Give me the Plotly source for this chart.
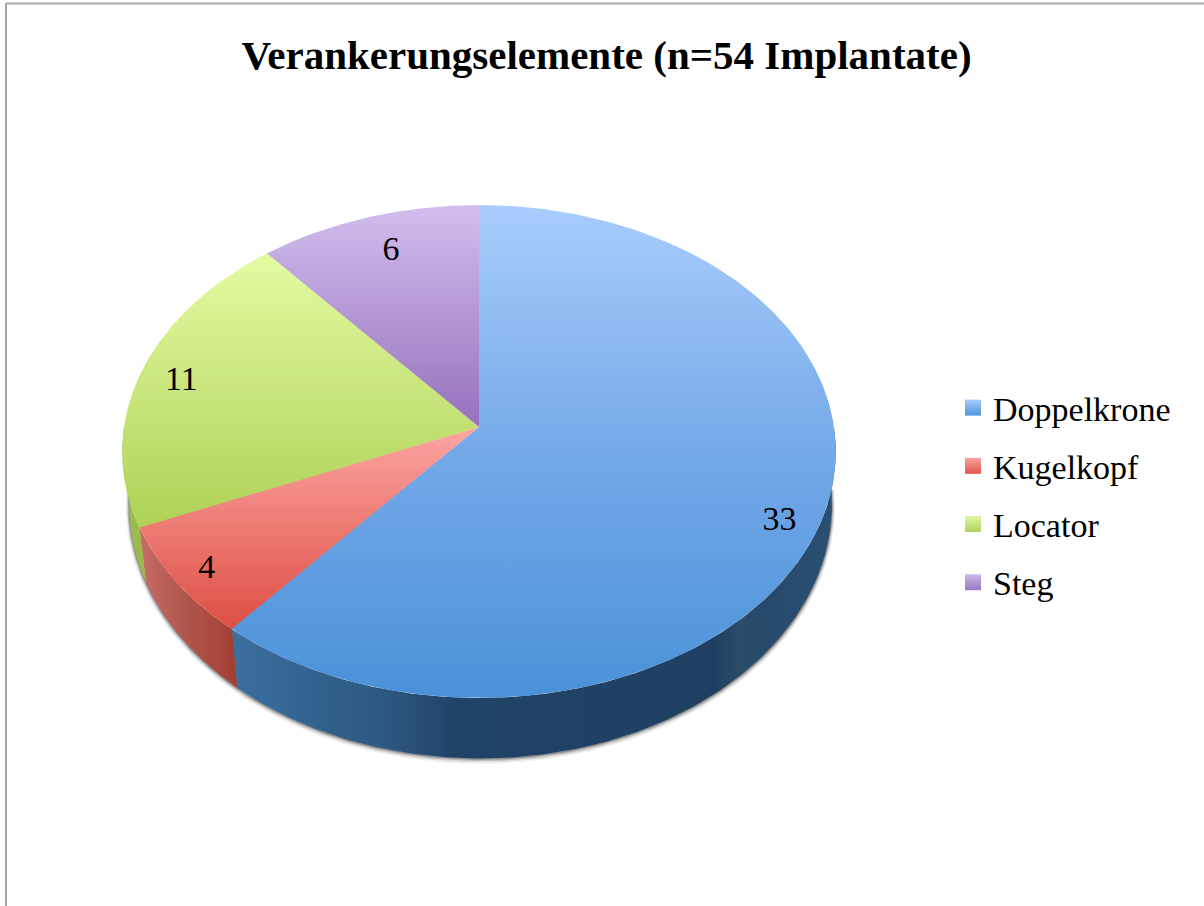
import numpy as np
import plotly.graph_objects as go

# ---- data ----
categories = ["Doppelkrone", "Kugelkopf", "Locator", "Steg"]
values = [33, 4, 11, 6]
title_text = "Verankerungselemente (n=54 Implantate)"

# ---- styles ----
FONT = "Liberation Serif"
top_gradients = [
    [[0, "#A9CDFC"], [0.5, "#74A9E8"], [1, "#4A91D8"]],
    [[0, "#FCA5A3"], [1, "#DD4F43"]],
    [[0, "#E4FBA3"], [1, "#AED155"]],
    [[0, "#D2BEEE"], [1, "#9571BC"]],
]
wall_gradients = [
    [[0, "#3C709F"], [0.08, "#366797"], [0.17, "#2F6088"], [0.24, "#2D5A84"], [0.3, "#2A5078"],
     [0.37, "#204368"], [0.8, "#1F4062"], [0.84, "#2A4C68"], [0.88, "#274A6C"], [1, "#2B4F70"]],
    [[0, "#C76C65"], [0.5, "#B0554C"], [1, "#A23E34"]],
    [[0, "#9DBD50"], [1, "#9ABA4E"]],
    [[0, "#8A6BAE"], [1, "#8A6BAE"]],
]
legend_colors = [("#A9CDFC", "#4F95DB"), ("#FBA3A1", "#DF564B"),
                 ("#DFF7A0", "#B0D25A"), ("#CDB8EA", "#9878BE")]
label_radius = [0.893, 0.905, 0.879, 0.835]
label_nudge_deg = [4.0, 0.0, 0.0, 1.3]
LABEL_DROP = 3.0
SEAM_DEG = 0.3

# ---- projection of the tilted disc onto the page ----
CX, CY, A, B, K = 479.0, 427.0, 355.0, 244.0, 0.0994


def top_xy(theta_deg, r=1.0):
    t = np.radians(theta_deg)
    u, v = r * np.sin(t), r * np.cos(t)
    d = 1 + K * v
    return CX + A * u / d, CY - B * v / d


def bottom_xy(theta_deg):
    x, y = top_xy(theta_deg)
    return CX + (x - CX) * 0.985 + 1.5, y * 1.03 + 39.6


total = sum(values)
edges = np.concatenate([[0], np.cumsum(values)]) / total * 360.0
n = len(values)

fig = go.Figure()

# soft shadow beneath the disc
th = np.linspace(92, 268, 240)
bx, by = bottom_xy(th)
for w, a, dy in [(7, 0.06, 2.0), (5, 0.10, 1.5), (3, 0.18, 1.0), (1.5, 0.28, 0.5)]:
    fig.add_trace(go.Scatter(x=bx, y=by + dy, mode="lines", showlegend=False, hoverinfo="skip",
                             line=dict(color=f"rgba(30,30,30,{a})", width=w)))

# side walls (only the front half of the rim is visible)
for i, name in enumerate(categories):
    lo, hi = max(edges[i], 90), min(edges[i + 1] + SEAM_DEG, 270)
    if hi <= lo:
        continue
    th = np.linspace(lo, hi, 160)
    tx, ty = top_xy(th)
    bx, by = bottom_xy(th)
    px = np.concatenate([tx, bx[::-1]])
    py = np.concatenate([ty, by[::-1]])
    fig.add_trace(go.Scatter(x=px, y=py, mode="lines", fill="toself", showlegend=False, hoverinfo="skip",
                             line=dict(width=0),
                             fillgradient=dict(type="horizontal", colorscale=wall_gradients[i],
                                               start=float(px.min()), stop=float(px.max()))))

# top faces: each one runs slightly under its neighbour, which hides anti-aliasing seams
for i, name in enumerate(categories):
    start = edges[i] - (SEAM_DEG if i == 0 else 0)
    end = edges[i + 1] + (SEAM_DEG if i < n - 1 else 0)
    th = np.linspace(start, end, 300)
    ax, ay = top_xy(th)
    px = np.concatenate([[CX], ax, [CX]])
    py = np.concatenate([[CY], ay, [CY]])
    fig.add_trace(go.Scatter(x=px, y=py, mode="lines", fill="toself", showlegend=False, name=name,
                             text=f"{name}: {values[i]}", hoverinfo="text", line=dict(width=0),
                             fillgradient=dict(type="vertical", colorscale=top_gradients[i],
                                               start=float(py.min()), stop=float(py.max()))))

# value labels
mid = (edges[:-1] + edges[1:]) / 2 + np.array(label_nudge_deg)
lx, ly = top_xy(mid, np.array(label_radius))
fig.add_trace(go.Scatter(x=lx, y=ly + LABEL_DROP, mode="text", text=[str(v) for v in values], showlegend=False,
                         hoverinfo="skip", textposition="middle center",
                         textfont=dict(family=FONT, size=34, color="black")))

# legend entries
for i, name in enumerate(categories):
    fig.add_trace(go.Scatter(x=[None], y=[None], mode="markers", name=name, legendgroup=name,
                             marker=dict(symbol="square", size=18, color=legend_colors[i][0],
                                         gradient=dict(type="vertical", color=legend_colors[i][1]),
                                         line=dict(width=0))))

frame = dict(color="#A6A6A6", width=2)
fig.update_layout(
    width=1204, height=906, margin=dict(l=0, r=0, t=0, b=0),
    paper_bgcolor="white", plot_bgcolor="white",
    xaxis=dict(range=[0, 1204], visible=False, fixedrange=True),
    yaxis=dict(range=[906, 0], visible=False, fixedrange=True),
    title=dict(text=f"<b>{title_text}</b>", x=606.5 / 1204, y=1 - 55 / 906, xanchor="center", yanchor="middle",
               font=dict(family=FONT, size=41, color="black")),
    legend=dict(x=953 / 1204, y=1 - 379 / 906, xanchor="left", yanchor="top", bgcolor="rgba(0,0,0,0)",
                font=dict(family=FONT, size=34, color="black"), tracegroupgap=11, itemwidth=30),
    shapes=[
        dict(type="line", xref="x", yref="y", x0=6, x1=6, y0=3, y1=906, line=frame),
        dict(type="line", xref="x", yref="y", x0=6, x1=1204, y0=3.5, y1=3.5, line=frame),
    ],
)

fig.write_html("out.html", config={"displayModeBar": False},
               post_script="document.body.style.margin='0';document.documentElement.style.overflow='hidden';")
